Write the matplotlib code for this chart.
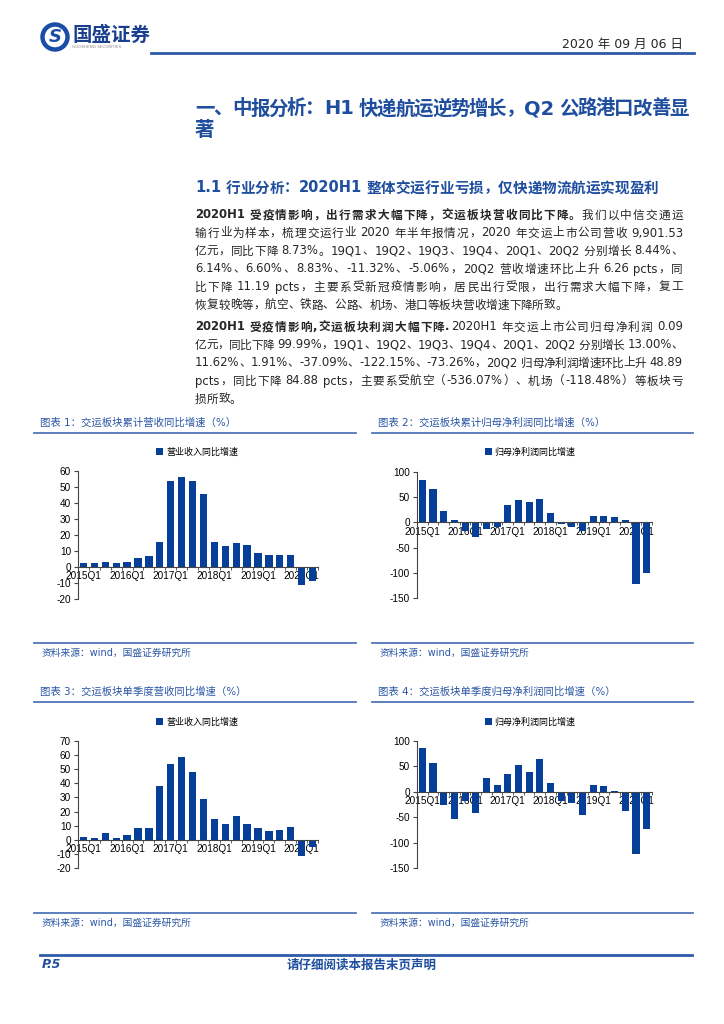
import re
import matplotlib
matplotlib.use("Agg")
import matplotlib.pyplot as plt
import numpy as np
from matplotlib.font_manager import FontProperties
from matplotlib.patches import Circle

FAM = ["DejaVu Sans", "Noto Sans CJK SC"]
plt.rcParams["font.family"] = FAM
plt.rcParams["axes.unicode_minus"] = False

# ---- data (2015Q1 .. 2020Q2) ----
tick_labels = ["2015Q1", "2016Q1", "2017Q1", "2018Q1", "2019Q1", "2020Q1"]
cum_revenue = [2.2, 2.3, 3.2, 2.8, 3.2, 5.6, 6.8, 15.5, 53.5, 56.5, 53.5, 45.5,
               15.5, 13.2, 14.8, 13.8, 8.44, 7.6, 7.3, 7.8, -11.32, -8.73]
cum_profit = [85, 67, 22, 5, -17, -28, -14, -10, 35, 44, 41, 46,
              18, -4, -10, -18, 13.0, 13, 10, 5, -122.15, -99.99]
q_revenue = [2.3, 1.2, 5.0, 1.2, 3.7, 8.0, 8.0, 38, 53.5, 58.5, 48, 29,
             15, 11.4, 16.5, 11.4, 8.44, 6.14, 6.60, 8.83, -11.32, -5.06]
q_profit = [86, 57, -25, -53, -18, -41, 28, 14, 35.5, 53, 39.5, 64,
            18, -19, -22, -45, 13.00, 11.62, 1.91, -37.09, -122.15, -73.26]

BAR = "#063f98"
BLUE = "#1f4e9e"
LINE = "#4f76b9"
TXT = "#262626"

fig = plt.figure(figsize=(7.24, 10.24), dpi=100)
page = fig.add_axes([0, 0, 1, 1])
page.set_xlim(0, 724)
page.set_ylim(1024, 0)
page.axis("off")
renderer = fig.canvas.get_renderer()


def draw_line(x, y, parts, size=9, width=None, color=TXT):
    # parts: list of (text, weight); spread tokens to fill width (justify)
    units = []
    gap = 0
    for txt, wt in parts:
        fp = FontProperties(family=FAM, size=size, weight=wt)
        for tok in re.findall(r"\s+|[A-Za-z0-9.,%\-+]+|.", txt):
            if tok.isspace():
                gap += size * 0.3 * 100 / 72
                continue
            w = renderer.get_text_width_height_descent(tok, fp, ismath=False)[0]
            units.append((tok, fp, w, gap))
            gap = 0
    extra = 0
    if width and len(units) > 1:
        natural = sum(u[2] + u[3] for u in units)
        extra = (width - natural) / (len(units) - 1)
    cx = x
    for tok, fp, w, g in units:
        cx += g
        page.text(cx, y, tok, fontproperties=fp, color=color, va="center", ha="left")
        cx += w + extra


# ---- header ----
page.add_patch(Circle((55, 37), 12.5, facecolor="white", edgecolor="#1a4ea6", lw=3.2))
page.text(55, 37.5, "S", color="#1a4ea6", fontsize=13, fontweight="bold",
          fontstyle="italic", ha="center", va="center")
page.text(72, 35, "国盛证券", color="#1a3f8f", fontsize=14, fontweight="bold", va="center")
page.text(72, 47, "GUOSHENG SECURITIES", color="#888888", fontsize=3, va="center")
page.text(683, 44, "2020 年 09 月 06 日", color=TXT, fontsize=9, ha="right", va="center")
page.plot([151, 694], [53, 53], color="#2f5aa8", lw=2)

# ---- titles ----
draw_line(195, 109, [("一、中报分析：H1 快递航运逆势增长，Q2 公路港口改善显", "bold")],
          size=14, width=494, color=BLUE)
draw_line(195, 131, [("著", "bold")], size=14, color=BLUE)
draw_line(195, 188, [("1.1 行业分析：2020H1 整体交运行业亏损，仅快递物流航运实现盈利", "bold")],
          size=10.5, color=BLUE)

# ---- body ----
p1 = [
    [("2020H1 受疫情影响，出行需求大幅下降，交运板块营收同比下降。", "bold"), ("我们以中信交通运", "normal")],
    [("输行业为样本，梳理交运行业 2020 年半年报情况，2020 年交运上市公司营收 9,901.53", "normal")],
    [("亿元，同比下降 8.73%。19Q1、19Q2、19Q3、19Q4、20Q1、20Q2 分别增长 8.44%、", "normal")],
    [("6.14%、6.60%、8.83%、-11.32%、-5.06%，20Q2 营收增速环比上升 6.26 pcts，同", "normal")],
    [("比下降 11.19 pcts，主要系受新冠疫情影响，居民出行受限，出行需求大幅下降，复工", "normal")],
    [("恢复较晚等，航空、铁路、公路、机场、港口等板块营收增速下降所致。", "normal")],
]
p2 = [
    [("2020H1 受疫情影响,交运板块利润大幅下降.", "bold"), ("2020H1 年交运上市公司归母净利润 0.09", "normal")],
    [("亿元，同比下降 99.99%，19Q1、19Q2、19Q3、19Q4、20Q1、20Q2 分别增长 13.00%、", "normal")],
    [("11.62%、1.91%、-37.09%、-122.15%、-73.26%，20Q2 归母净利润增速环比上升 48.89", "normal")],
    [("pcts，同比下降 84.88 pcts，主要系受航空（-536.07%）、机场（-118.48%）等板块亏", "normal")],
    [("损所致。", "normal")],
]
for i, parts in enumerate(p1):
    draw_line(195, 215 + 18 * i, parts, size=8.4, width=488 if i < len(p1) - 1 else None)
for i, parts in enumerate(p2):
    draw_line(195, 327 + 18 * i, parts, size=8.4, width=488 if i < len(p2) - 1 else None)

# ---- captions / sources ----
captions = ["图表 1：交运板块累计营收同比增速（%）", "图表 2：交运板块累计归母净利润同比增速（%）",
            "图表 3：交运板块单季度营收同比增速（%）", "图表 4：交运板块单季度归母净利润同比增速（%）"]
source = "资料来源：wind，国盛证券研究所"
for k, (cx, lx0, lx1) in enumerate([(40, 34, 356), (378, 372, 693)]):
    page.text(cx, 423, captions[k], color="#2b56a6", fontsize=7.5, va="center")
    page.text(cx, 692, captions[k + 2], color="#2b56a6", fontsize=7.5, va="center")
    for yy in (433, 643, 702, 913):
        page.plot([lx0, lx1], [yy, yy], color=LINE, lw=1.3)
    page.text(cx + 2, 653, source, color="#2b56a6", fontsize=7, va="center")
    page.text(cx + 2, 923, source, color="#2b56a6", fontsize=7, va="center")

# ---- footer ----
page.plot([40, 692], [955, 955], color="#2f5aa8", lw=2)
page.text(42, 965, "P.5", color=BLUE, fontsize=9, fontweight="bold", fontstyle="italic", va="center")
page.text(362, 965, "请仔细阅读本报告末页声明", color=BLUE, fontsize=9, fontweight="bold",
          ha="center", va="center")


def bar_chart(l, t, r, b, values, ylim, ystep, label, legend_xy):
    ax = fig.add_axes([l / 724, 1 - b / 1024, (r - l) / 724, (b - t) / 1024])
    ax.patch.set_alpha(0)
    x = np.arange(len(values))
    bars = ax.bar(x, values, width=0.66, color=BAR, zorder=2)
    ax.set_xlim(-0.5, len(values) - 0.5)
    ax.set_ylim(*ylim)
    ax.set_yticks(np.arange(ylim[0], ylim[1] + 1, ystep))
    ax.spines[["top", "right"]].set_visible(False)
    ax.spines["bottom"].set_position(("data", 0))
    for s in ("left", "bottom"):
        ax.spines[s].set_color("#444444")
        ax.spines[s].set_linewidth(0.8)
    ax.set_xticks(x[::4], tick_labels)
    ax.set_xticks(np.arange(-0.5, len(values), 1), minor=True)
    ax.tick_params(axis="x", which="major", length=0, pad=3, labelsize=7.2)
    ax.tick_params(axis="x", which="minor", length=2.5, color="#444444")
    ax.tick_params(axis="y", length=3, pad=2, labelsize=7.2, color="#444444")
    for lab in ax.get_xticklabels() + ax.get_yticklabels():
        lab.set_family("Liberation Sans")
    fig.legend(handles=[bars], labels=[label], loc="center",
               bbox_to_anchor=(legend_xy[0] / 724, 1 - legend_xy[1] / 1024),
               frameon=False, fontsize=6.5, handlelength=0.8, handleheight=0.8,
               handletextpad=0.3)


bar_chart(78, 471, 318, 599, cum_revenue, (-20, 60), 10, "营业收入同比增速", (197, 452))
bar_chart(417, 472, 652, 598, cum_profit, (-150, 100), 50, "归母净利润同比增速", (530, 452))
bar_chart(78, 741, 318, 868, q_revenue, (-20, 70), 10, "营业收入同比增速", (197, 722))
bar_chart(417, 741, 652, 868, q_profit, (-150, 100), 50, "归母净利润同比增速", (530, 722))

fig.savefig("out.png", dpi=100)
